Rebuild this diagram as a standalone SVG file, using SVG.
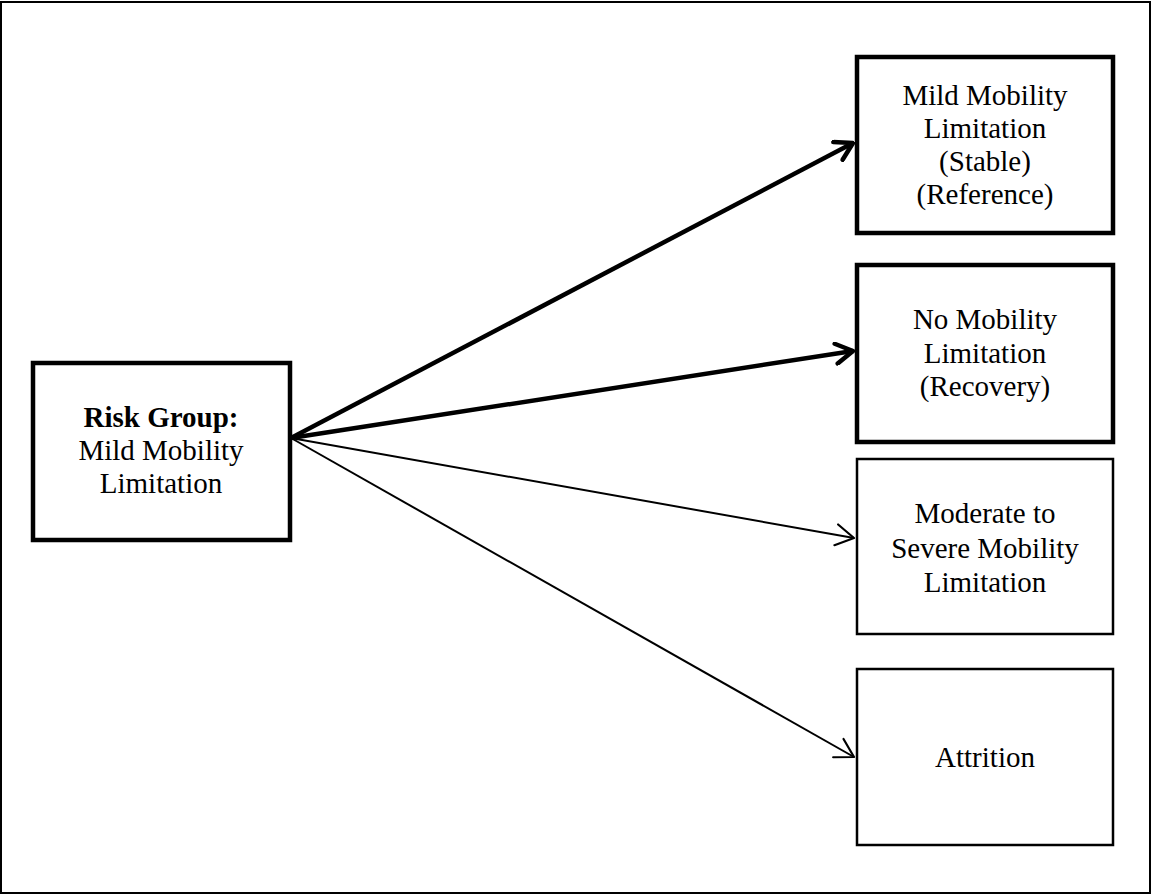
<svg xmlns="http://www.w3.org/2000/svg" width="1153" height="895" viewBox="0 0 1153 895">
<style>
.frame{fill:#fff;stroke:#000;stroke-width:2}
.thick{fill:#fff;stroke:#000;stroke-width:4.5}
.thin{fill:#fff;stroke:#000;stroke-width:2.5}
text{font-family:"Liberation Serif","Times New Roman",serif;font-size:29px;fill:#000;text-anchor:middle}
.cw{stroke:#000;stroke-width:4.5;fill:none}
.cn{stroke:#000;stroke-width:2;fill:none}
</style>
<defs>
<marker id="ahThick" markerUnits="userSpaceOnUse" viewBox="-20 -12 22 24" refX="0" refY="0" markerWidth="22" markerHeight="24" orient="auto">
<path d="M-17,-10 L0,0 L-17,10" fill="none" stroke="#000" stroke-width="4.5" stroke-linecap="round" stroke-linejoin="round"/>
</marker>
<marker id="ahThin" markerUnits="userSpaceOnUse" viewBox="-20 -12 22 24" refX="0" refY="0" markerWidth="22" markerHeight="24" orient="auto">
<path d="M-18,-10.5 L0,0 L-18,10.5" fill="none" stroke="#000" stroke-width="2.2" stroke-linecap="round" stroke-linejoin="round"/>
</marker>
</defs>
<rect class="frame" x="1" y="2" width="1149" height="891"/>
<g id="connectors">
<line class="cw" x1="291" y1="438" x2="853" y2="143" marker-end="url(#ahThick)"/>
<line class="cw" x1="291" y1="438" x2="853" y2="351" marker-end="url(#ahThick)"/>
<line class="cn" x1="291" y1="438" x2="854" y2="538" marker-end="url(#ahThin)"/>
<line class="cn" x1="291" y1="438" x2="854" y2="757" marker-end="url(#ahThin)"/>
</g>
<g id="risk">
<rect class="thick" x="33" y="363" width="257" height="177"/>
<text x="161" y="427"><tspan font-weight="bold">Risk Group:</tspan></text>
<text x="161" y="460">Mild Mobility</text>
<text x="161" y="493">Limitation</text>
</g>
<g id="stable">
<rect class="thick" x="857" y="57" width="256" height="176"/>
<text x="985" y="105">Mild Mobility</text>
<text x="985" y="138">Limitation</text>
<text x="985" y="171">(Stable)</text>
<text x="985" y="204">(Reference)</text>
</g>
<g id="recovery">
<rect class="thick" x="857" y="265" width="256" height="177"/>
<text x="985" y="329">No Mobility</text>
<text x="985" y="363">Limitation</text>
<text x="985" y="396">(Recovery)</text>
</g>
<g id="severe">
<rect class="thin" x="857" y="459" width="256" height="175"/>
<text x="985" y="523">Moderate to</text>
<text x="985" y="558">Severe Mobility</text>
<text x="985" y="592">Limitation</text>
</g>
<g id="attrition">
<rect class="thin" x="857" y="669" width="256" height="176"/>
<text x="985" y="767">Attrition</text>
</g>
</svg>
